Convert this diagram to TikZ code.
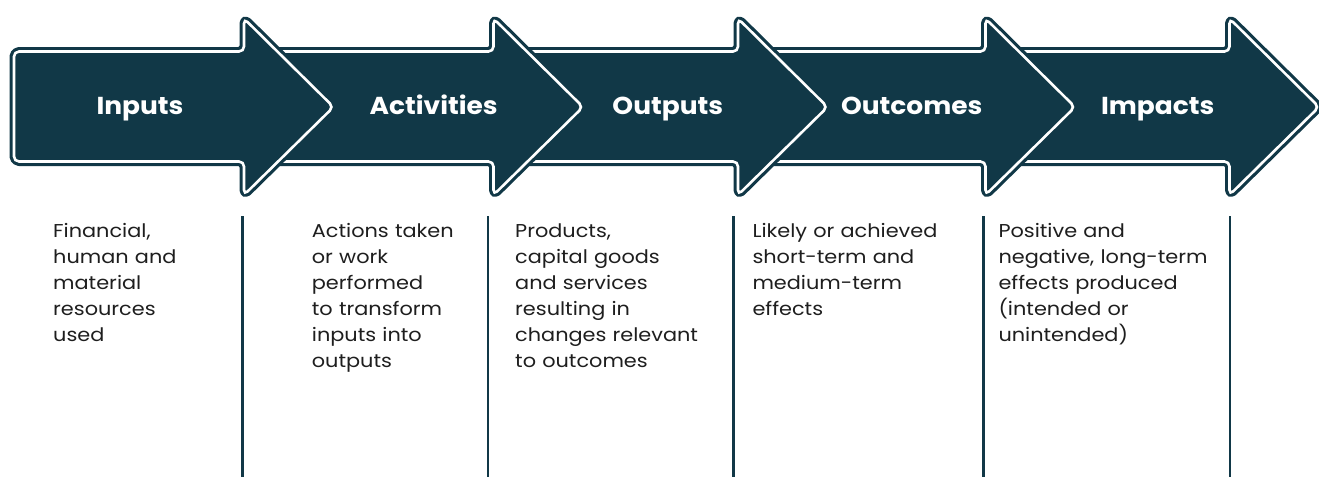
\documentclass[tikz,border=0pt]{standalone}
\usepackage{fontspec}
\setmainfont{Poppins}
\newfontfamily\bodywide[FakeStretch=1.12]{Poppins}
\newfontfamily\labelwide[FakeStretch=1.08]{Poppins}
\definecolor{deepteal}{RGB}{17,56,71}
\definecolor{bodyink}{RGB}{30,30,30}
\tikzset{
  arrowfill/.style={draw=deepteal, fill=deepteal, line width=9pt, rounded corners=5pt, line join=round},
  arrowrim/.style={draw=white, line width=2.6pt, rounded corners=5pt},
  stagelabel/.style={text=white, inner sep=0pt, anchor=base, font=\labelwide\fontsize{24.5}{30}\selectfont\bfseries},
  stagetext/.style={text=bodyink, inner sep=0pt, anchor=base west, align=left, text width=240pt,
    font=\bodywide\fontsize{18.6}{26}\selectfont},
  divider/.style={draw=deepteal, line width=2.2pt}
}
\begin{document}
\begin{tikzpicture}[x=1pt, y=-1pt]
\useasboundingbox (0,0) rectangle (1319,477);
\clip (0,0) rectangle (1319,477);
% arrows drawn from the last stage back to the first so every head lies on the next body
\foreach \s/\l in {1229.5/990.5, 985.5/743, 738/498.5, 493.5/249, 244/14}{
  \path[arrowfill] (\l,51.5) -- (\s,51.5) -- (\s,18.5) -- (\s+89.5,107) -- (\s,195) -- (\s,161.5) -- (\l,161.5) -- cycle;
  \path[arrowrim] (\l,51.5) -- (\s,51.5) -- (\s,18.5) -- (\s+89.5,107) -- (\s,195) -- (\s,161.5) -- (\l,161.5) -- cycle;
}
% stage names
\node[stagelabel] (inputs) at (140,114.5) {Inputs};
\node[stagelabel] (activities) at (433.7,114.5) {Activities};
\node[stagelabel] (outputs) at (667.8,114.5) {Outputs};
\node[stagelabel] (outcomes) at (911.7,114.5) {Outcomes};
\node[stagelabel] (impacts) at (1157.7,114.5) {Impacts};
% column dividers
\foreach \x [count=\i] in {242.5, 488, 733.5, 983.5, 1230}{
  \coordinate (dtop\i) at (\x,216);
  \coordinate (dbot\i) at (\x,477);
  \draw[divider] (dtop\i) -- (dbot\i);
}
% descriptions
\node[stagetext] (dinputs) at (53,237) {Financial,\\human and\\material\\resources\\used};
\node[stagetext] (dactivities) at (311.7,237) {Actions taken\\or work\\performed\\to transform\\inputs into\\outputs};
\node[stagetext] (doutputs) at (515,237) {Products,\\capital goods\\and services\\resulting in\\changes relevant\\to outcomes};
\node[stagetext] (doutcomes) at (752.3,237) {Likely or achieved\\short-term and\\medium-term\\effects};
\node[stagetext] (dimpacts) at (998.3,237) {Positive and\\negative, long-term\\effects produced\\(intended or\\unintended)};
\end{tikzpicture}
\end{document}
